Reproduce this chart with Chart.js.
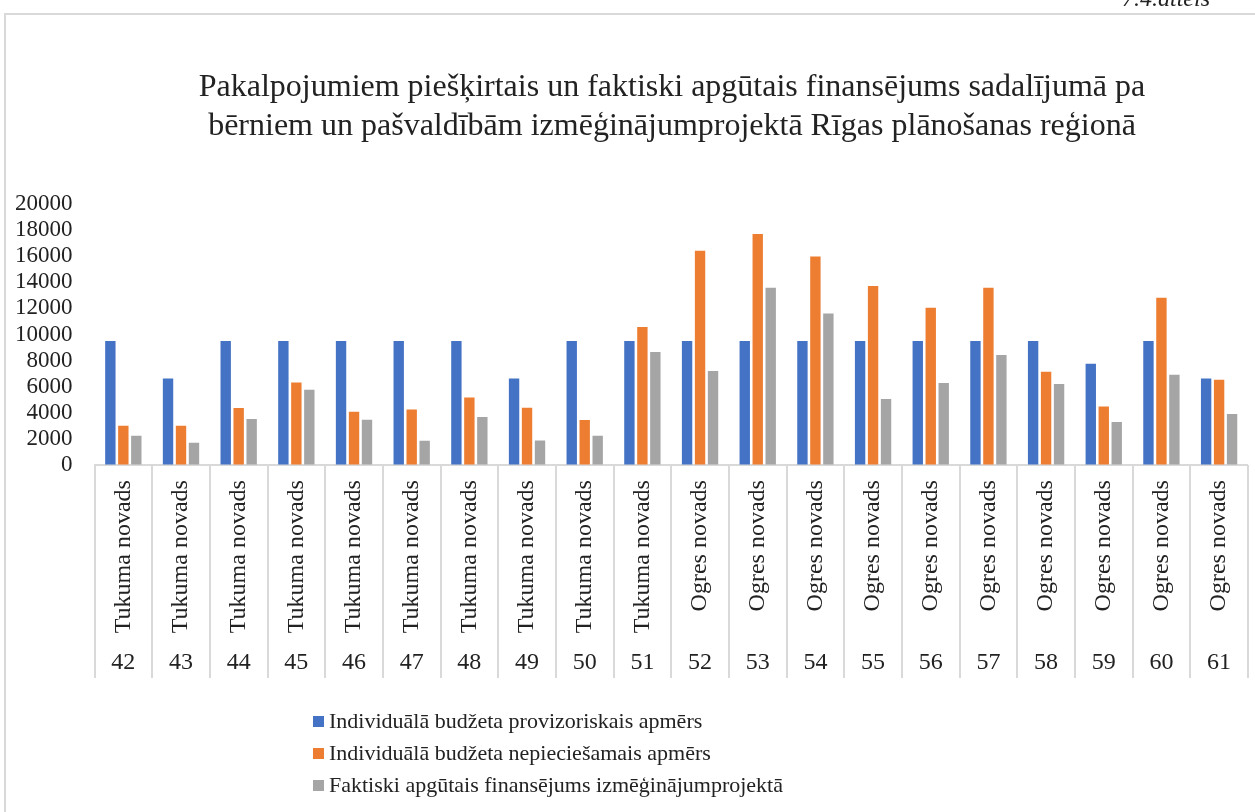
<!DOCTYPE html>
<html>
<head>
<meta charset="utf-8">
<script src="https://cdn.jsdelivr.net/npm/chart.js@4.4.1/dist/chart.umd.min.js"></script>
<style>
body{margin:0;background:#fff;}
#wrap{width:1255px;height:812px;}
</style>
</head>
<body>
<div id="wrap"><canvas id="finChart" width="1255" height="812"></canvas></div>
<script>

/* dati */

var names=[
"Tukuma novads","Tukuma novads","Tukuma novads","Tukuma novads","Tukuma novads",
"Tukuma novads","Tukuma novads","Tukuma novads","Tukuma novads","Tukuma novads",
"Ogres novads","Ogres novads","Ogres novads","Ogres novads","Ogres novads",
"Ogres novads","Ogres novads","Ogres novads","Ogres novads","Ogres novads"
];

var numbers=["42","43","44","45","46","47","48","49","50","51","52","53","54","55","56","57","58","59","60","61"];

var provizoriskais=[9500,6640,9500,9500,9500,9500,9500,6640,9500,9500,9500,9500,9500,9500,9500,9500,9500,7760,9500,6640];

var nepieciesamais=[3010,3010,4370,6330,4085,4260,5180,4390,3450,10575,16420,17700,15985,13715,12055,13590,7150,4490,12820,6535];

var apgutais=[2245,1710,3525,5770,3470,1860,3680,1885,2245,8660,7200,13590,11620,5060,6285,8430,6205,3295,6920,3910];

var seriesNames=[
"Individuālā budžeta provizoriskais apmērs",
"Individuālā budžeta nepieciešamais apmērs",
"Faktiski apgūtais finansējums izmēģinājumprojektā"
];

var titleLines=[
"Pakalpojumiem piešķirtais un faktiski apgūtais finansējums sadalījumā pa",
"bērniem un pašvaldībām izmēģinājumprojektā Rīgas plānošanas reģionā"
];

var yTicks=[0,2000,4000,6000,8000,10000,12000,14000,16000,18000,20000];

var colors=["#4472C4","#ED7D31","#A5A5A5"];

var serif='"Liberation Serif","Times New Roman",serif';


/* rāmis, virsraksts, atdalītāji, leģenda */

var extras={
id:"extras",
beforeDraw:function(chart){
var c=chart.ctx;
c.save();
c.fillStyle="#fff";
c.fillRect(0,0,chart.width,chart.height);
c.strokeStyle="#d9d9d9";
c.lineWidth=2;
c.strokeRect(5,14,chart.width+20,chart.height+20);
c.fillStyle="#222";
c.font="italic 24px "+serif;
c.textAlign="right";
c.textBaseline="alphabetic";
c.fillText("7.4.attēls",1210,6);

c.font="32px "+serif;
c.textAlign="center";
c.textBaseline="middle";
for(var t=0;t<titleLines.length;t++){
c.fillText(titleLines[t],672,88+t*39);
}
c.restore();
},
afterDraw:function(chart){
var c=chart.ctx;
var x=chart.scales.x;
var x2=chart.scales.x2;
c.save();
c.strokeStyle="#d9d9d9";
c.lineWidth=2;
c.beginPath();
for(var i=0;i<=names.length;i++){
var px=Math.round(x.getPixelForValue(i-0.5));
c.moveTo(px,x.top);
c.lineTo(px,x2.bottom+1);
}
c.stroke();

c.font="22px "+serif;
c.textBaseline="middle";
c.textAlign="left";
var ds=chart.data.datasets;
for(var k=0;k<ds.length;k++){
var y=722+k*32;
c.fillStyle=ds[k].backgroundColor;
c.fillRect(313,y-6,11,11);
c.fillStyle="#222";
c.fillText(ds[k].label,329,y);
}
c.restore();
}
};


new Chart(document.getElementById("finChart"),{

type:"bar",

data:{
labels:names,
datasets:[
{label:seriesNames[0],data:provizoriskais,backgroundColor:colors[0]},
{label:seriesNames[1],data:nepieciesamais,backgroundColor:colors[1]},
{label:seriesNames[2],data:apgutais,backgroundColor:colors[2]}
]
},

options:{
responsive:false,
animation:false,
events:[],
layout:{padding:{left:15,right:4,top:204,bottom:135}},
datasets:{bar:{categoryPercentage:0.675,barPercentage:0.8,borderWidth:0}},
plugins:{
legend:{display:false},
tooltip:{enabled:false},
title:{display:false}
},
scales:{
y:{
min:0,
max:20000,
afterBuildTicks:function(s){
s.ticks=yTicks.map(function(v){return {value:v};});
},
border:{display:false},
grid:{display:true,drawOnChartArea:false,drawTicks:true,tickLength:22,tickColor:"rgba(0,0,0,0)"},
ticks:{
autoSkip:false,
padding:0,
color:"#222",
font:{family:serif,size:23},
callback:function(v){return String(v);}
}
},
x:{
position:"bottom",
border:{display:true,color:"#d9d9d9",width:2},
grid:{display:false},
ticks:{
autoSkip:false,
maxRotation:90,
minRotation:90,
padding:7,
color:"#222",
font:{family:serif,size:24}
}
},
x2:{
type:"category",
position:"bottom",
labels:numbers,
offset:true,
border:{display:false},
grid:{display:false},
ticks:{autoSkip:false,maxRotation:0,padding:0,color:"#222",font:{family:serif,size:24}}
}
}
},

plugins:[extras]

});

</script>
</body>
</html>
